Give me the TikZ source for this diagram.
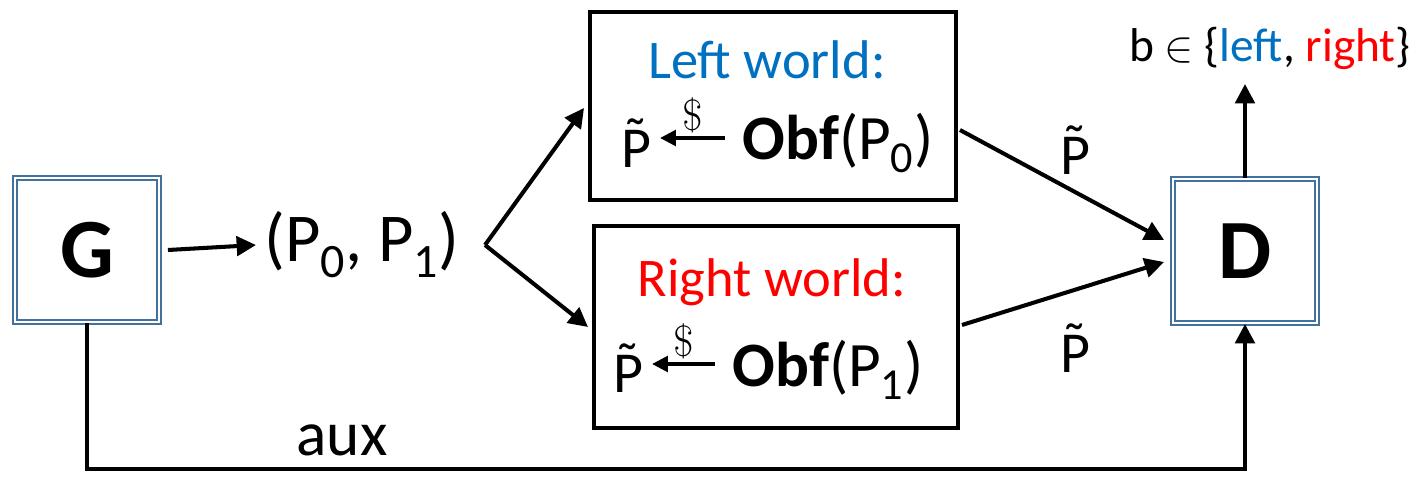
\documentclass[tikz,border=0pt]{standalone}
\usepackage{fontspec}
\setmainfont{Carlito}
\usepackage{amsmath}
\usetikzlibrary{arrows.meta,positioning,calc}
\definecolor{worldblue}{RGB}{0,112,192}
\definecolor{worldred}{RGB}{255,0,0}
\definecolor{partyblue}{RGB}{65,113,156}
\newcommand{\Ptil}{\accent"02DC P}
\tikzset{
  party/.style  = {draw=partyblue, line width=1.1pt, double=white,
                   double distance=1.2pt, minimum size=2.88cm, inner sep=0pt,
                   font=\fontsize{48}{50}\selectfont\bfseries},
  world/.style  = {draw, line width=2.3pt, inner sep=0pt},
  arr/.style    = {-{Triangle[length=11pt,width=11pt]}, line width=2.3pt},
  txt/.style    = {inner sep=0pt, font=\fontsize{36}{40}\selectfont}
}
\begin{document}
\begin{tikzpicture}[x=0.02cm, y=-0.02cm]
    \useasboundingbox (0,0) rectangle (1418,480);
    % parties
    \node[party](G) at (87,250)  {G};
    \node[party](D) at (1245,251) {D};
    % the two worlds
    \node[world, minimum width=7.32cm, minimum height=3.76cm](lw) at (773,106) {};
    \node[world, minimum width=7.28cm, minimum height=4.04cm](rw) at (776,327) {};
    \node[txt, font=\fontsize{31}{34}\selectfont, text=worldblue](lwt) at (767,60) {Left world:};
    \node[txt, font=\fontsize{31}{34}\selectfont, text=worldred](rwt) at (772,282) {Right world:};
    \node[txt, font=\fontsize{33}{36}\selectfont](lp) at (636,143) {\Ptil};
    \node[txt](lobf) at (838,143) {\textbf{Obf}(P\textsubscript{0})};
    \node[txt, font=\fontsize{33}{36}\selectfont](rp) at (628,368) {\Ptil};
    \node[txt](robf) at (828,370) {\textbf{Obf}(P\textsubscript{1})};
    \draw[-{Triangle[length=9pt,width=9pt]}, line width=1.8pt]
      ([xshift=-10pt]lobf.west |- 0,138) -- ([xshift=5pt]lp.east |- 0,138)
      node[midway, above=2pt, inner sep=0pt, font=\fontsize{32}{34}\selectfont]{$\$$};
    \draw[-{Triangle[length=9pt,width=9pt]}, line width=1.8pt]
      ([xshift=-10pt]robf.west |- 0,364) -- ([xshift=5pt]rp.east |- 0,364)
      node[midway, above=2pt, inner sep=0pt, font=\fontsize{32}{34}\selectfont]{$\$$};
    % challenge pair
    \node[txt, font=\fontsize{39}{42}\selectfont](pair) at (362,245) {(P\textsubscript{0}, P\textsubscript{1})};
    \coordinate (fork) at (485,245);
    \draw[arr]($(G.east)+(8,0)$) -- ($(pair.west)+(-8,0)$);
    \draw[arr](fork) -- ($(lw.west)+(-4,2)$);
    \draw[arr](fork) -- ($(rw.west)+(-4,0)$);
    % to the distinguisher
    \draw[arr]($(lw.east)+(2,24)$) -- ($(D.west)+(-8,-11)$);
    \draw[arr]($(rw.east)+(2,-2)$) -- ($(D.west)+(-8,11)$);
    \node[txt, font=\fontsize{33}{36}\selectfont](lpt) at (1075,150) {\Ptil};
    \node[txt, font=\fontsize{33}{36}\selectfont](rpt) at (1075,348) {\Ptil};
    % output bit
    \node[txt, font=\fontsize{27}{30}\selectfont](bset) at (1270,48)
      {b $\in$ \{\textcolor{worldblue}{left}, \textcolor{worldred}{right}\}};
    \coordinate (btip) at (1245,84);
    \draw[arr](D.north) -- (btip);
    % auxiliary input
    \draw[arr](G.south) -- ++(0,146) -| (D.south);
    \node[txt](aux) at (342,440) {aux};
\end{tikzpicture}
\end{document}
